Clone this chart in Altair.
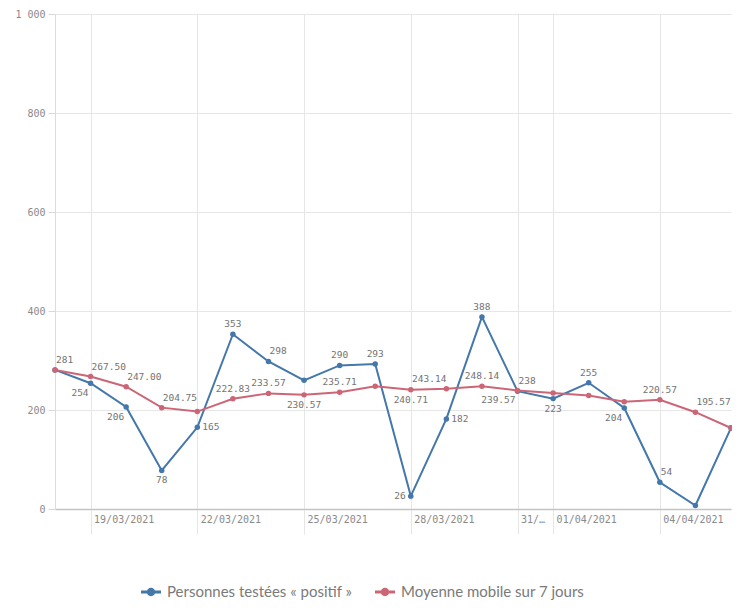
import altair as alt
import pandas as pd

# ---- data ----
dates = ["2021-03-18", "2021-03-19", "2021-03-20", "2021-03-21", "2021-03-22",
         "2021-03-23", "2021-03-24", "2021-03-25", "2021-03-26", "2021-03-27",
         "2021-03-28", "2021-03-29", "2021-03-30", "2021-03-31", "2021-04-01",
         "2021-04-02", "2021-04-03", "2021-04-04", "2021-04-05", "2021-04-06"]
positifs = [281, 254, 206, 78, 165, 353, 298, 260, 290, 293,
            26, 182, 388, 238, 223, 255, 204, 54, 7, 164]
moyenne = [281.00, 267.50, 247.00, 204.75, 196.80, 222.83, 233.57, 230.57, 235.71, 248.14,
           240.71, 243.14, 248.14, 239.57, 234.29, 229.29, 216.57, 220.57, 195.57, 163.57]
series_names = ["Personnes testées « positif »", "Moyenne mobile sur 7 jours"]
colors = ["#4477aa", "#cc6677"]

# where each value label sits relative to its point ("" = label hidden)
positifs_place = ["ne", "sw", "sw", "s", "e", "n", "ne", "", "n", "n",
                  "w", "e", "n", "ne", "s", "n", "sw", "ne", "", ""]
moyenne_place = ["", "ne", "ne", "ne", "", "n", "n", "s", "n", "",
                 "s", "nw", "n", "sw", "", "", "", "n", "ne", ""]

rows = []
for d, v, p in zip(dates, positifs, positifs_place):
    rows.append({"date": d, "value": v, "serie": series_names[0], "lab": f"{v:d}", "place": p})
for d, v, p in zip(dates, moyenne, moyenne_place):
    rows.append({"date": d, "value": v, "serie": series_names[1], "lab": f"{v:.2f}", "place": p})
df = pd.DataFrame(rows)
df["date"] = pd.to_datetime(df["date"])

tick_dates = [alt.DateTime(year=2021, month=3, date=19), alt.DateTime(year=2021, month=3, date=22),
              alt.DateTime(year=2021, month=3, date=25), alt.DateTime(year=2021, month=3, date=28),
              alt.DateTime(year=2021, month=3, date=31), alt.DateTime(year=2021, month=4, date=1),
              alt.DateTime(year=2021, month=4, date=4)]

grid_c = "#e6e6e6"
mono = "DejaVu Sans Mono"

x_enc = alt.X(
    "date:T",
    scale=alt.Scale(domain=[alt.DateTime(year=2021, month=3, date=18),
                            alt.DateTime(year=2021, month=4, date=6)]),
    axis=alt.Axis(
        title=None, values=tick_dates,
        labelExpr="date(datum.value) == 31 ? '31/…' : timeFormat(datum.value, '%d/%m/%Y')",
        labelAlign="left", labelBaseline="top", labelOffset=3,
        labelFont=mono, labelFontSize=10, labelColor="#8a8a8a",
        tickSize=25, tickColor=grid_c, labelPadding=-20,
        domainColor="#c4c4c4", domainWidth=1.5,
        grid=True, gridColor=grid_c, labelOverlap=False,
    ),
)
y_enc = alt.Y(
    "value:Q",
    scale=alt.Scale(domain=[0, 1000], nice=False),
    axis=alt.Axis(
        title=None, values=[0, 200, 400, 600, 800, 1000],
        labelExpr="replace(format(datum.value, ','), ',', ' ')",
        labelFont=mono, labelFontSize=10, labelColor="#8a8a8a",
        tickSize=7, tickColor="#d8d8d8", labelPadding=3,
        domainColor="#dcdcdc", grid=True, gridColor=grid_c,
    ),
)
color_enc = alt.Color(
    "serie:N",
    scale=alt.Scale(domain=series_names, range=colors),
    legend=alt.Legend(
        title=None, orient="none", legendX=86, legendY=568, direction="horizontal",
        symbolType="M-1,-0.14H1V0.14H-1Z M0,-0.42A0.42,0.42,0,1,1,0,0.42A0.42,0.42,0,1,1,0,-0.42Z",
        symbolSize=400, symbolStrokeWidth=0, symbolOpacity=1,
        labelFont="Lato", labelFontSize=15, labelColor="#7a7a7a",
        labelOffset=6, columnPadding=22, labelLimit=400,
    ),
)

base = alt.Chart(df).encode(x=x_enc, y=y_enc, color=color_enc)
line = base.mark_line(strokeWidth=2)
pts = base.mark_point(filled=True, size=30, opacity=1)

offsets = {
    "n": dict(align="center", dx=0, dy=-10),
    "s": dict(align="center", dx=0, dy=10),
    "ne": dict(align="left", dx=1, dy=-10),
    "nw": dict(align="right", dx=0, dy=-10),
    "sw": dict(align="right", dx=-2, dy=10),
    "e": dict(align="left", dx=5, dy=0),
    "w": dict(align="right", dx=-5, dy=0),
}
texts = []
for key, o in offsets.items():
    texts.append(
        alt.Chart(df).mark_text(font=mono, fontSize=9.5, color="#737373",
                                baseline="middle", **o)
        .encode(x=alt.X("date:T"), y=alt.Y("value:Q"), text="lab:N")
        .transform_filter(alt.datum.place == key)
    )

chart = alt.layer(line, pts, *texts).properties(
    width=676, height=495,
    autosize=alt.AutoSizeParams(type="none"),
    padding={"left": 47, "top": 6, "right": 1, "bottom": 91},
).configure_view(strokeWidth=0)

chart.save("out.html", embed_options={"renderer": "svg", "actions": False})
